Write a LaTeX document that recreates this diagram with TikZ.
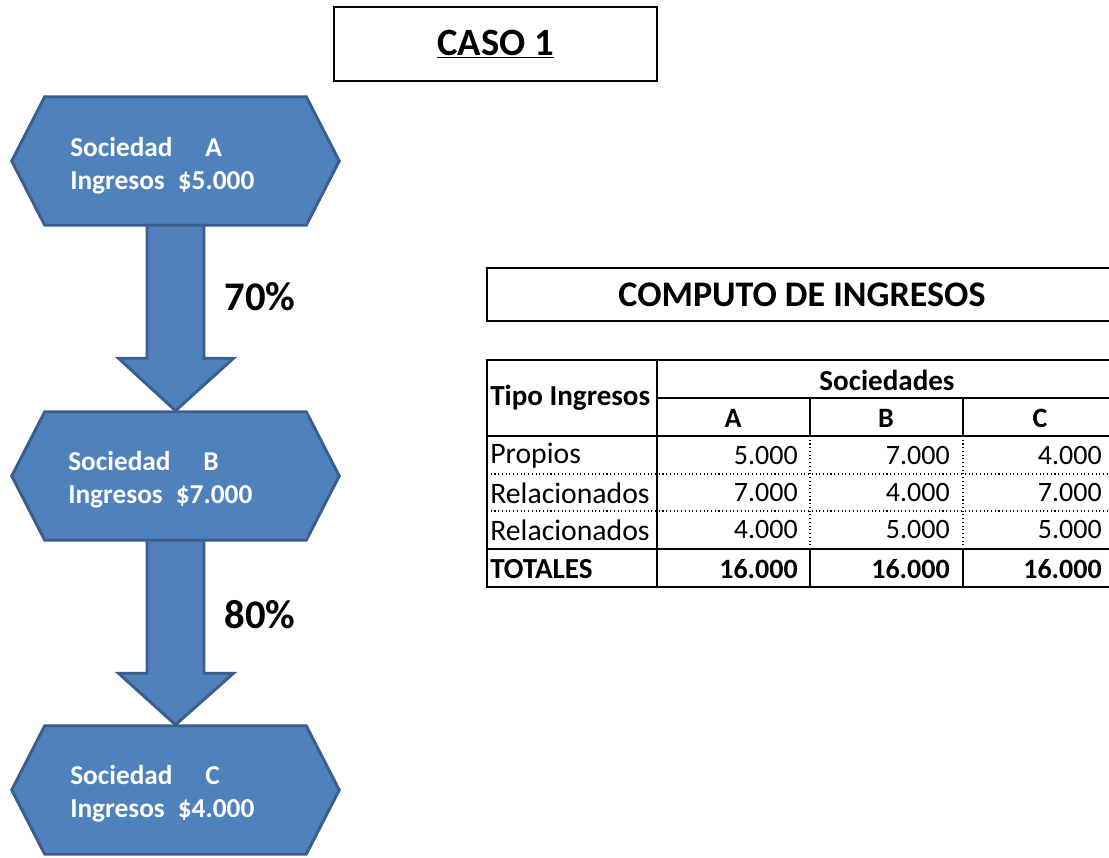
\documentclass[tikz,border=0pt]{standalone}
\usepackage{fontspec}
\setmainfont{Carlito}
\usetikzlibrary{calc}
\definecolor{hexblue}{HTML}{4F81BD}
\definecolor{hexedge}{HTML}{3B5E8C}
\tikzset{
  hexbox/.style={minimum width=245.25pt, minimum height=96pt, inner sep=0pt, draw=none},
  hexshape/.style={fill=hexblue, draw=hexedge, line width=2.2pt, line join=miter},
  hextext/.style={anchor=west, align=left, text=white, font=\bfseries\fontsize{20.5}{24.75}\selectfont, inner sep=0pt},
  pct/.style={font=\bfseries\fontsize{30.5}{34}\selectfont, inner sep=0pt},
  titlebox/.style={draw=black, line width=1.8pt, minimum width=242pt, minimum height=55.5pt, inner sep=0pt, font=\bfseries\fontsize{29}{32}\selectfont},
  thick line/.style={line width=1.9pt, black},
  dot line/.style={line width=0.8pt, black, dotted},
  cell/.style={inner sep=0pt, font=\fontsize{21}{24}\selectfont},
  bcell/.style={inner sep=0pt, font=\bfseries\fontsize{21}{24}\selectfont},
  tcell/.style={inner sep=0pt, font=\fontsize{22.3}{24}\selectfont},
  btcell/.style={inner sep=0pt, font=\bfseries\fontsize{21.8}{24}\selectfont},
}
\begin{document}
\begin{tikzpicture}[x=0.75pt, y=-0.75pt]
\useasboundingbox (0,0) rectangle (1109,857);

% title
\node[titlebox] (caso) at (495.5,44) {\underline{CASO 1}};

% hexagons
\node[hexbox] (A) at (175.5,161) {};
\node[hexbox] (B) at (175.5,476) {};
\node[hexbox] (C) at (175.5,790) {};
\foreach \h in {A,B,C}{
  \path[hexshape] ($(\h.north west)+(33,0)$) -- ($(\h.north east)+(-33,0)$) -- (\h.east)
     -- ($(\h.south east)+(-33,0)$) -- ($(\h.south west)+(33,0)$) -- (\h.west) -- cycle;
}
\node[hextext] (tA) at (70,166) {Sociedad\hspace{1.2em}A\\Ingresos \hspace{0.25em}\$5.000};
\node[hextext] (tB) at (68,480) {Sociedad\hspace{1.2em}B\\Ingresos \hspace{0.25em}\$7.000};
\node[hextext] (tC) at (70,794) {Sociedad\hspace{1.2em}C\\Ingresos \hspace{0.25em}\$4.000};

% block arrows
\path[hexshape] ($(A.south)+(-28.5,0)$) -- ($(A.south)+(28.5,0)$) -- ($(A.south)+(28.5,133)$)
   -- ($(A.south)+(58,133)$) -- ($(B.north)+(0,-1)$) -- ($(A.south)+(-57,133)$)
   -- ($(A.south)+(-28.5,133)$) -- cycle;
\path[hexshape] ($(B.south)+(-28.5,0)$) -- ($(B.south)+(28.5,0)$) -- ($(B.south)+(28.5,133)$)
   -- ($(B.south)+(58,133)$) -- ($(C.north)+(0,-1)$) -- ($(B.south)+(-57,133)$)
   -- ($(B.south)+(-28.5,133)$) -- cycle;
\node[pct] (p70) at (260,297) {70\%};
\node[pct] (p80) at (260,615) {80\%};

% computo box
\draw[line width=1.8pt] (1112,268) coordinate (cbr) -- (487,268) coordinate (ctl) -- (487,321) -- (1112,321);
\node[font=\bfseries\fontsize{27}{30}\selectfont, inner sep=0pt] (comp) at (802,295) {COMPUTO DE INGRESOS};

% table lines
\draw[thick line] (1112,360) -- (487,360) -- (487,587) -- (1112,587);
\draw[thick line] (657,360) -- (657,587);
\draw[thick line] (657,398) -- (1112,398);
\draw[thick line] (487,436) -- (1112,436);
\draw[thick line] (487,549) -- (1112,549);
\draw[thick line] (810,398) -- (810,436);
\draw[thick line] (963,398) -- (963,436);
\draw[thick line] (810,549) -- (810,587);
\draw[thick line] (963,549) -- (963,587);
\draw[dot line] (487,474) -- (1112,474);
\draw[dot line] (487,511) -- (1112,511);
\draw[dot line] (810,436) -- (810,549);
\draw[dot line] (963,436) -- (963,549);

% table text
\node[btcell, anchor=west] (tipo) at (490,398) {Tipo Ingresos};
\node[btcell] (soc) at (887,380) {Sociedades};
\node[bcell] (hA) at (733,418) {A};
\node[bcell] (hB) at (886,418) {B};
\node[bcell] (hC) at (1040,418) {C};

\node[tcell, anchor=west] (r1) at (490,456) {Propios};
\node[tcell, anchor=west] (r2) at (490,493) {Relacionados};
\node[tcell, anchor=west] (r3) at (490,530) {Relacionados};
\node[btcell, anchor=west] (r4) at (490,569) {TOTALES};

\node[cell, anchor=east] (v11) at (798,456) {5.000};
\node[cell, anchor=east] (v12) at (950,456) {7.000};
\node[cell, anchor=east] (v13) at (1102,456) {4.000};
\node[cell, anchor=east] (v21) at (798,493) {7.000};
\node[cell, anchor=east] (v22) at (950,493) {4.000};
\node[cell, anchor=east] (v23) at (1102,493) {7.000};
\node[cell, anchor=east] (v31) at (798,530) {4.000};
\node[cell, anchor=east] (v32) at (950,530) {5.000};
\node[cell, anchor=east] (v33) at (1102,530) {5.000};
\node[bcell, anchor=east] (t1) at (798,569) {16.000};
\node[bcell, anchor=east] (t2) at (950,569) {16.000};
\node[bcell, anchor=east] (t3) at (1102,569) {16.000};
\end{tikzpicture}
\end{document}
